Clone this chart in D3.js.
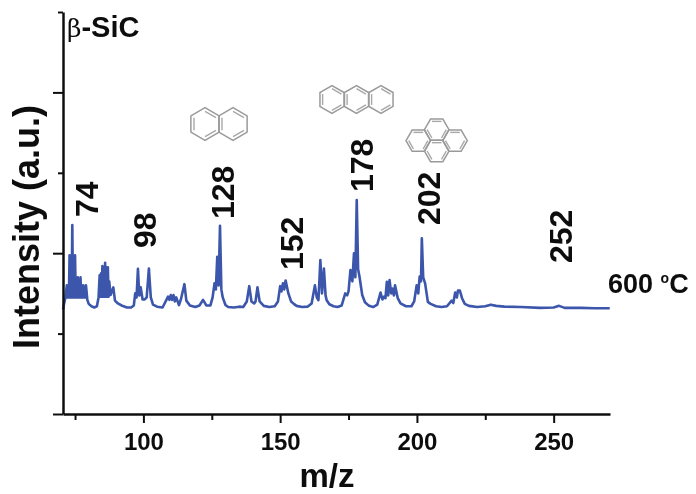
<!DOCTYPE html>
<html>
<head>
<meta charset="utf-8">
<script src="https://cdn.jsdelivr.net/npm/d3@7"></script>
<style>
  html, body { margin: 0; padding: 0; background: #fff; }
  svg { display: block; }
  text { font-family: "Liberation Sans", Arial, sans-serif; font-weight: bold; fill: #111; }
  .axis path, .axis line { stroke: #111; }
</style>
</head>
<body>
<div id="content"></div>
<script>
// spectrum, m/z and intensity (% of the y axis)
const mz = [70.6, 71, 71.5, 72, 72.25, 72.5, 72.75, 73, 73.25, 73.5, 73.75, 74, 74.25, 74.5, 74.75, 75, 75.25, 75.5, 75.75, 76, 76.25, 76.5, 76.75, 77, 77.25, 77.5, 77.75, 78, 78.25, 78.5, 78.75, 79, 79.5, 80, 81, 82,
  83, 83.6, 84, 84.25, 84.5, 84.75, 85, 85.25, 85.5, 85.75, 86, 86.25, 86.5, 86.75, 87, 87.25, 87.5, 88, 89, 89.6, 90.5, 92, 94, 95.5,
  96.5, 97, 97.5, 98, 98.5, 99, 99.7, 100.5, 101.2, 102, 102.7, 103.5, 105, 107,
  108.5, 109, 109.5, 110, 110.5, 111, 111.5, 112, 113, 113.7, 115, 115.7, 117, 119, 120.5, 121.8, 123, 124.5,
  125.3, 126, 126.5, 127, 127.5, 128, 128.5, 129, 130, 131, 133, 135, 136.5, 137.8, 138.7, 139.5, 140.5,
  141, 141.7, 142.5, 144, 146, 148, 149.2, 150, 150.5, 151, 151.5, 152, 153, 154, 155, 156, 158, 160,
  161.5, 162.7, 163.4, 164, 164.7, 165.3, 166, 166.6, 167, 168, 169.5, 171, 172.5, 173.8, 174.5, 175, 175.7, 176.4, 177, 177.5,
  178, 178.5, 179, 180, 181, 182.5, 184, 185.5, 186.7, 187.4, 188, 188.5, 189, 189.5, 190, 190.6, 191, 191.6, 192, 193, 194, 196, 198,
  199, 199.9, 200.5, 201, 201.5, 201.8, 202.3, 203, 204, 205, 207, 209, 211, 212.7, 213.3, 214, 214.6, 215, 215.7, 216.5, 217.5, 219, 222, 225, 227,
  229, 232, 238, 245, 250, 252, 254, 260, 265, 270.5];
const intensity = [26, 27.5, 29, 32, 29, 31, 29, 39.5, 29, 38, 29, 47, 29, 38, 29, 39.5, 29, 33, 29, 34, 29, 33, 29, 34, 29, 32, 29, 32, 29, 31.5, 29, 32, 28.4, 27.4, 26.8, 26.5,
  26.8, 29, 34.5, 29.2, 35, 29.2, 36.8, 29.2, 36.5, 29.2, 37.6, 29.2, 36.5, 29.2, 36.5, 29.2, 33, 29.6, 31.5, 28.2, 27.6, 27, 26.5, 26.5,
  27, 30, 29, 36.1, 29.5, 31.5, 28.5, 28.5, 29, 36.2, 29, 27.2, 26.7, 26.5,
  28.5, 29.2, 28.4, 29.6, 28.4, 29.6, 28, 29, 27.1, 28.5, 32.3, 28.2, 27, 26.6, 27, 28.4, 27, 27,
  29, 32.5, 31, 39.1, 32, 46.8, 31, 29, 27.1, 26.6, 26.5, 26.7, 26.6, 28, 31.8, 28, 27.5,
  28, 31.5, 28, 26.9, 26.6, 26.8, 28, 31.8, 30.5, 32.5, 31, 33.2, 30, 28, 27.4, 26.9, 26.6, 26.7,
  27.5, 32, 29, 28.3, 38.3, 30, 36.2, 29.5, 28.3, 27.3, 26.8, 26.6, 27, 30, 29.5, 30.5, 35.8, 33, 40, 34,
  53.2, 36, 34.2, 29.6, 27.8, 26.9, 26.6, 27.2, 30.2, 28.5, 29.2, 28.8, 32.9, 29.5, 33.3, 30, 31.2, 29.5, 32, 28.8, 27.5, 26.8, 26.8,
  28, 32, 30, 34.2, 33, 43.7, 34, 32.5, 27.9, 27.4, 26.8, 26.6, 26.8, 28.2, 27.6, 30.2, 29, 30.7, 30.7, 28.8, 27.4, 26.9, 26.6, 26.8, 27.2,
  26.9, 26.7, 26.6, 26.4, 26.5, 26.9, 26.4, 26.4, 26.3, 26.3];

const peakLabels = ["74", "98", "128", "152", "178", "202", "252"];
const xTickLabels = [100, 150, 200, 250];
const xMinorTicks = [75, 125, 175, 225];
const yMajorTicks = [0, 40, 80];
const yMinorTicks = [20, 60, 100];

// page layout, pixels
const labelX = [97.5, 156, 234, 303, 373, 440, 572];
const labelBottom = [217, 248, 219, 270, 192, 225, 263];

const outerWidth = 696;
const outerHeight = 494;
const plotLeft = 63, plotRight = 610, plotTop = 12, plotBottom = 414;

const svg = d3.select("#content").append("svg")
    .attr("width", outerWidth)
    .attr("height", outerHeight);

const defs = svg.append("defs");
defs.append("filter").attr("id", "soft")
  .append("feGaussianBlur").attr("stdDeviation", 0.5);

const wrapper = svg.append("g").attr("filter", "url(#soft)");

// scales
const xScale = d3.scaleLinear().domain([70.6, 270.6]).range([plotLeft, plotRight]);
const yScale = d3.scaleLinear().domain([0, 100]).range([plotBottom, plotTop]);

// spectrum
const line = d3.line()
    .x((d, i) => xScale(mz[i]))
    .y(d => yScale(d));

wrapper.append("path")
    .datum(intensity)
    .attr("d", line)
    .attr("fill", "none")
    .attr("stroke", "#3b56aa")
    .attr("stroke-width", 2.6)
    .attr("stroke-linejoin", "round");

// axes
const xAxis = wrapper.append("g")
    .attr("class", "axis")
    .attr("transform", `translate(0, ${plotBottom})`)
    .call(d3.axisBottom(xScale).tickValues(xTickLabels).tickSize(9).tickSizeOuter(0).tickFormat(d3.format("d")));
xAxis.select(".domain").attr("stroke-width", 2.5);
xAxis.selectAll("line").attr("stroke-width", 2);
xAxis.selectAll("text").attr("font-size", 24).attr("dy", 24).attr("fill", "#111").attr("font-family", null);

wrapper.append("g")
    .attr("class", "axis")
    .attr("transform", `translate(0, ${plotBottom})`)
    .call(d3.axisBottom(xScale).tickValues(xMinorTicks).tickSize(6).tickSizeOuter(0).tickFormat(""))
    .call(g => g.select(".domain").remove())
    .selectAll("line").attr("stroke-width", 2);

const yAxis = wrapper.append("g")
    .attr("class", "axis")
    .attr("transform", `translate(${plotLeft}, 0)`)
    .call(d3.axisLeft(yScale).tickValues(yMajorTicks).tickSize(10).tickSizeOuter(0).tickFormat(""));
yAxis.select(".domain").attr("stroke-width", 2.5);
yAxis.selectAll("line").attr("stroke-width", 2);

wrapper.append("g")
    .attr("class", "axis")
    .attr("transform", `translate(${plotLeft}, 0)`)
    .call(d3.axisLeft(yScale).tickValues(yMinorTicks).tickSize(5).tickSizeOuter(0).tickFormat(""))
    .call(g => g.select(".domain").remove())
    .selectAll("line").attr("stroke-width", 2);

// axis titles
wrapper.append("text")
    .attr("transform", "translate(39, 227) rotate(-90)")
    .attr("text-anchor", "middle")
    .attr("font-size", 36)
    .text("Intensity (a.u.)");

wrapper.append("text")
    .attr("x", 327)
    .attr("y", 487)
    .attr("text-anchor", "middle")
    .attr("font-size", 33)
    .text("m/z");

// peak labels
wrapper.selectAll(".peak")
  .data(peakLabels)
  .join("text")
    .attr("class", "peak")
    .attr("transform", (d, i) => `translate(${labelX[i]}, ${labelBottom[i]}) rotate(-90)`)
    .attr("font-size", 32)
    .text(d => d);

// sample tags
const tag = wrapper.append("text").attr("x", 67).attr("y", 37).attr("font-size", 29);
tag.append("tspan").attr("font-family", "DejaVu Serif").attr("font-weight", "normal").attr("font-size", 25).text("β");
tag.append("tspan").text("-SiC");

const temp = wrapper.append("text").attr("x", 608).attr("y", 293).attr("font-size", 27);
temp.append("tspan").text("600 ");
temp.append("tspan").attr("dy", -10).attr("font-size", 14).text("o");
temp.append("tspan").attr("dy", 10).text("C");

// molecule sketches: naphthalene, anthracene (vertex up), pyrene (flat top)
const molecules = [
  {r: 16.3, turn: Math.PI / 6, rings: [[205, 124], [233, 124]]},
  {r: 13.9, turn: Math.PI / 6, rings: [[332, 99.5], [356.5, 99.5], [381, 99.5]]},
  {r: 12.3, turn: 0, rings: [[418.3, 140.7], [436.7, 129.7], [436.7, 151], [455, 140.7]]}
];
const hexLine = d3.line();
molecules.forEach(mol => {
  mol.rings.forEach(c => {
    const pts = d3.range(6).map(k => {
      const a = mol.turn + k * Math.PI / 3;
      return [c[0] + mol.r * Math.cos(a), c[1] + mol.r * Math.sin(a)];
    });
    wrapper.append("path")
        .attr("d", hexLine(pts) + "Z")
        .attr("fill", "none")
        .attr("stroke", "#9a9a9a")
        .attr("stroke-width", 1.5);
    // inner double bonds
    [0, 2, 4].forEach(k => {
      const f = v => [c[0] + (v[0] - c[0]) * 0.78, c[1] + (v[1] - c[1]) * 0.78];
      wrapper.append("path")
          .attr("d", hexLine([f(pts[k]), f(pts[(k + 1) % 6])]))
          .attr("stroke", "#a8a8a8")
          .attr("stroke-width", 1.4);
    });
  });
});
</script>
</body>
</html>
